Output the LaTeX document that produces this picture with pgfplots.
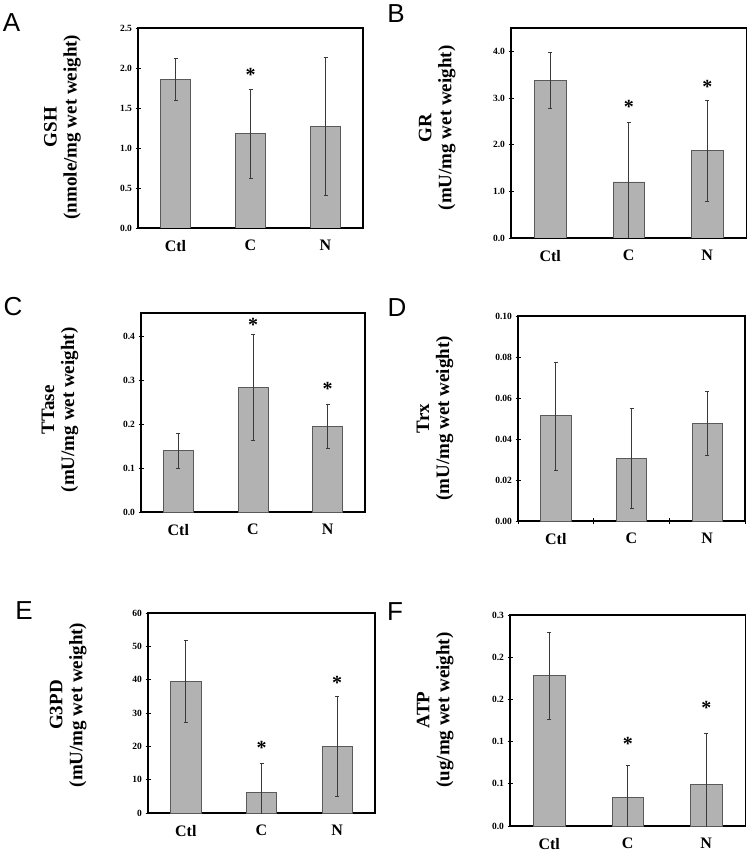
\documentclass[border=0pt]{standalone}
\usepackage{fontspec}
\setmainfont{Liberation Serif}
\newfontfamily\panelfont{Liberation Sans}
\usepackage{pgfplots}
\pgfplotsset{compat=1.18}

\definecolor{barfill}{HTML}{B2B2B2}
\definecolor{baredge}{HTML}{5A5A5A}
\definecolor{errcol}{HTML}{3A3A3A}

\pgfplotsset{
  panel/.style={
    scale only axis, anchor=north west,
    xmin=-0.5, xmax=2.5, ymin=0,
    xtick={0,1,2}, xticklabels={Ctl,C,N},
    xtick pos=bottom, ytick pos=left,
    major x tick style={draw=none},
    axis line style={line width=1.6pt},
    y tick style={line width=0.8pt, black},
    major tick length=5pt, tick align=center,
    scaled y ticks=false,
    /pgf/number format/assume math mode=true,
    yticklabel style={font=\bfseries\fontsize{9.5}{10}\selectfont},
    xticklabel style={font=\bfseries\fontsize{16}{16}\selectfont, yshift=-6pt},
    ylabel style={font=\bfseries\fontsize{19}{20}\selectfont, align=center, anchor=center},
  },
  bars/.style={ybar, bar width=0.4, fill=barfill, draw=baredge, line width=0.7pt,
    error bars/.cd, y dir=both, y explicit,
    error bar style={line width=0.8pt, errcol}},
  stars/.style={draw=none, mark=none, nodes near coords={\bfseries *},
    every node near coord/.style={anchor=base, font=\fontsize{20}{20}\selectfont,
      yshift=-10pt, inner sep=0pt}},
}

\begin{document}
\begin{tikzpicture}
\path[use as bounding box] (0,0) rectangle (747pt,-856pt);

% A: GSH
\begin{axis}[panel, at={(138pt,-28pt)}, width=225pt, height=200pt,
  ymax=2.5, ytick={0,0.5,1,1.5,2,2.5},
  yticklabel style={/pgf/number format/.cd, fixed, fixed zerofill, precision=1},
  ylabel={GSH\\(nmole/mg wet weight)},
  ylabel style={at={(axis description cs:-0.336,0.505)}}]
\addplot[bars] coordinates {(0,1.86) +- (0,0.26) (1,1.18) +- (0,0.56) (2,1.27) +- (0,0.86)};
\addplot[stars] coordinates {(1,1.96)};
\end{axis}

% B: GR
\begin{axis}[panel, at={(511pt,-28pt)}, width=235.5pt, height=210pt,
  ymax=4.5, ytick={0,1,2,3,4},
  yticklabel style={/pgf/number format/.cd, fixed, fixed zerofill, precision=1},
  ylabel={GR\\(mU/mg wet weight)},
  ylabel style={at={(axis description cs:-0.314,0.524)}}]
\addplot[bars] coordinates {(0,3.38) +- (0,0.60) (1,1.20) +- (0,1.28) (2,1.87) +- (0,1.09)};
\addplot[stars] coordinates {(1,2.88) (2,3.31)};
\end{axis}

% C: TTase
\begin{axis}[panel, at={(141pt,-313pt)}, width=224pt, height=199pt,
  ymax=0.4525, ytick={0,0.1,0.2,0.3,0.4},
  yticklabel style={/pgf/number format/.cd, fixed, fixed zerofill, precision=1},
  ylabel={TTase\\(mU/mg wet weight)},
  ylabel style={at={(axis description cs:-0.362,0.513)}}]
\addplot[bars] coordinates {(0,0.140) +- (0,0.040) (1,0.284) +- (0,0.121) (2,0.195) +- (0,0.051)};
\addplot[stars] coordinates {(1,0.433) (2,0.287)};
\end{axis}

% D: Trx
\begin{axis}[panel, at={(518pt,-316pt)}, width=227pt, height=205pt,
  ymax=0.10, ytick={0,0.02,0.04,0.06,0.08,0.10},
  yticklabel style={/pgf/number format/.cd, fixed, fixed zerofill, precision=2},
  minor xtick={-0.5,0.5,1.5,2.5},
  minor x tick style={black, line width=0.8pt}, minor tick length=6pt,
  ylabel={Trx\\(mU/mg wet weight)},
  ylabel style={at={(axis description cs:-0.366,0.5)}}]
\addplot[bars] coordinates {(0,0.0513) +- (0,0.0264) (1,0.0305) +- (0,0.0244) (2,0.0476) +- (0,0.0155)};
\end{axis}

% E: G3PD
\begin{axis}[panel, at={(148pt,-613pt)}, width=227pt, height=200pt,
  ymax=60, ytick={0,10,20,30,40,50,60},
  ylabel={G3PD\\(mU/mg wet weight)},
  ylabel style={at={(axis description cs:-0.352,0.54)}}]
\addplot[bars] coordinates {(0,39.4) +- (0,12.3) (1,6.3) +- (0,8.5) (2,19.9) +- (0,15.0)};
\addplot[stars] coordinates {(1,20.6) (2,40.0)};
\end{axis}

% F: ATP
\begin{axis}[panel, at={(510pt,-615pt)}, width=235.5pt, height=211pt,
  ymax=0.25, ytick={0,0.05,0.1,0.15,0.2,0.25},
  yticklabels={0.0,0.1,0.1,0.2,0.2,0.3},
  ylabel={ATP\\(ug/mg wet weight)},
  ylabel style={at={(axis description cs:-0.318,0.55)}}]
\addplot[bars] coordinates {(0,0.178) +- (0,0.052) (1,0.0336) +- (0,0.038) (2,0.049) +- (0,0.061)};
\addplot[stars] coordinates {(1,0.1017) (2,0.144)};
\end{axis}

% panel letters
\begin{scope}[every node/.style={font=\panelfont\fontsize{26}{26}\selectfont, inner sep=0pt, anchor=center}]
\node at (11.5pt,-23pt) {A};
\node at (396pt,-14pt) {B};
\node at (13pt,-307pt) {C};
\node at (397pt,-308pt) {D};
\node at (24pt,-611pt) {E};
\node at (395pt,-612pt) {F};
\end{scope}
\end{tikzpicture}
\end{document}
